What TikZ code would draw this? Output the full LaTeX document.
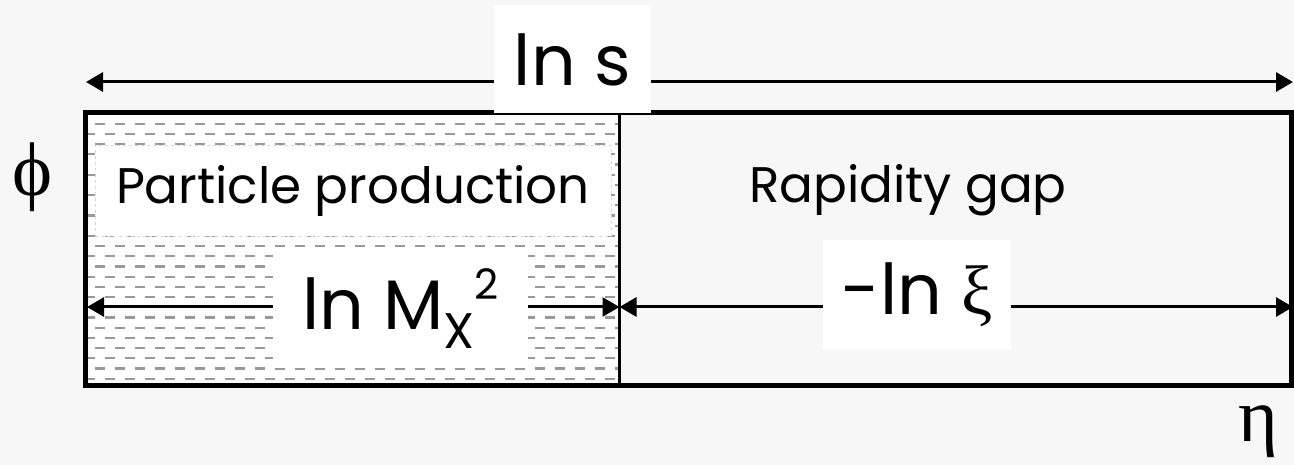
\documentclass[tikz,border=0pt]{standalone}
\usepackage{fontspec}
\setmainfont{Poppins}
\newfontfamily\grk{Liberation Serif}
\usetikzlibrary{arrows.meta}
\definecolor{bgc}{HTML}{F7F7F7}
\definecolor{patc}{HTML}{999999}
\definecolor{faint}{HTML}{D8D8D8}
\begin{document}
\begin{tikzpicture}[x=1pt,y=-1pt,
  arr/.style={line width=3pt, {Triangle[length=17pt,width=19pt]}-{Triangle[length=17pt,width=19pt]}},
  wbox/.style={fill=white, inner sep=0pt, anchor=center},
  big/.style={font=\fontsize{70}{72}\selectfont},
  mid/.style={font=\fontsize{50}{54}\selectfont},
  greek/.style={font=\fontsize{76}{78}\selectfont\grk, inner sep=0pt}]
% background
\useasboundingbox[fill=bgc] (0,0) rectangle (1294,465);
% patterned left region
\fill[white] (85,112) rectangle (619,385);
\begin{scope}
  \clip (85,112) rectangle (619,385);
  \foreach \i in {0,...,26} {
    \pgfmathsetmacro\yy{123.7+10.2*\i}
    \pgfmathsetmacro\ph{10-mod(\i,2)*10}
    \draw[patc, line width=2.3pt, dash pattern=on 10pt off 10pt, dash phase=\ph pt] (85,\yy) -- (619,\yy);
  }
\end{scope}
% frame and divider
\draw[line width=5pt] (85.5,112.5) rectangle (1291.5,385.5);
\coordinate (dtop) at (619.5,112.5);
\coordinate (dbot) at (619.5,385.5);
\draw[line width=3pt] (dtop) -- (dbot);
% arrow end points
\coordinate (tl) at (86,82);
\coordinate (tr) at (1293,82);
\coordinate (ml) at (87,307);
\coordinate (mm) at (619.5,307);
\coordinate (mr) at (1293,307);
\draw[arr] (tl) -- (tr);
\draw[arr] (ml) -- (mm);
\draw[arr] (mm) -- (mr);
% labels
\node[wbox, big, minimum width=157pt, minimum height=108pt] (lns) at (572.5,59.5) {ln s};
\node[wbox, mid, draw=faint, line width=0.8pt, dashed, minimum width=516pt, minimum height=91pt] (pp) at (353,190.5) {Particle production};
\node[wbox, big, minimum width=255pt, minimum height=118pt] (lnmx) at (400.5,309) {ln M\raisebox{-0.28em}{\fontsize{50}{52}\selectfont X}\raisebox{0.42em}{\fontsize{42}{44}\selectfont 2}};
\node[wbox, big, minimum width=188pt, minimum height=110pt] (lnxi) at (917,295) {-ln {\grk ξ}};
\node[mid, inner sep=0pt] (gap) at (908,190) {Rapidity gap};
\node[greek] (phi) at (33,177) {ϕ};
\node[greek] (eta) at (1258,432) {η};
\end{tikzpicture}
\end{document}
